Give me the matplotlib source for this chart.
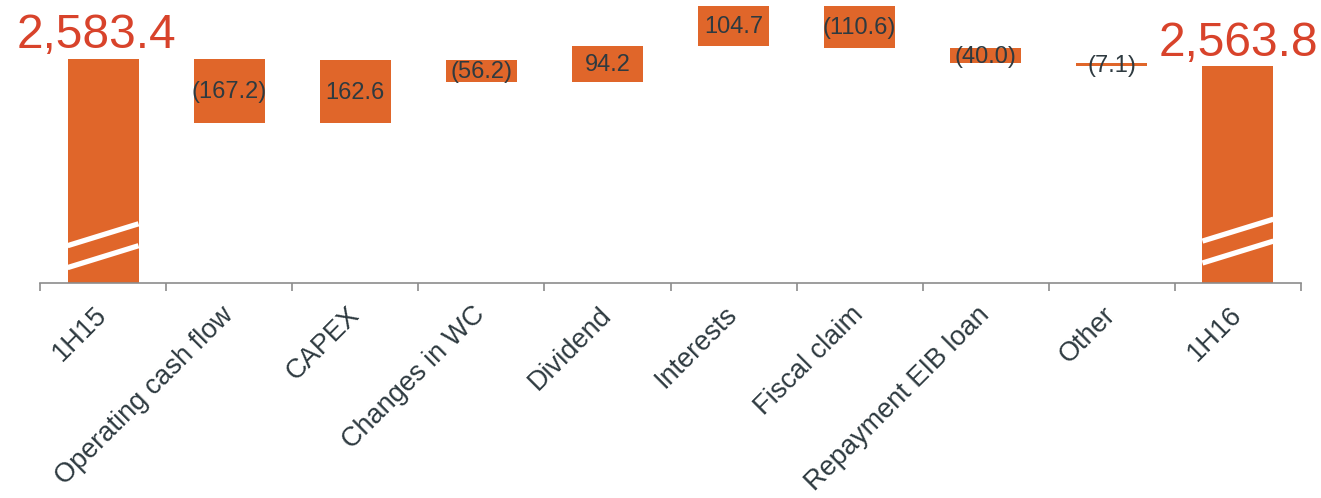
import matplotlib
matplotlib.use("Agg")
import matplotlib.pyplot as plt
import numpy as np

plt.rcParams['font.family'] = ['Liberation Sans', 'DejaVu Sans']

CATEGORIES = ['1H15', 'Operating cash flow', 'CAPEX', 'Changes in WC', 'Dividend',
              'Interests', 'Fiscal claim', 'Repayment EIB loan', 'Other', '1H16']
START = 2583.4
DELTAS = [-167.2, 162.6, -56.2, 94.2, 104.7, -110.6, -40.0, -7.1]
END = 2563.8
DELTA_LABELS = ['(167.2)', '162.6', '(56.2)', '94.2', '104.7', '(110.6)', '(40.0)', '(7.1)']
TOTAL_LABELS = ['2,583.4', '2,563.8']

BAR_COLOR = '#E0662A'
BIG_COLOR = '#D8432B'
TEXT_COLOR = '#2E3A40'
AXIS_COLOR = '#8C8C8C'
Y_BASE = 2000          # broken axis: bars start here
Y_TOP = 2736

fig = plt.figure(figsize=(13.21, 4.98), dpi=100)
ax = fig.add_axes([40 / 1321, 1 - 283 / 498, 1261 / 1321, 283 / 498])

x = np.arange(len(CATEGORIES))
width = 0.563

# waterfall geometry from cumulative sums
levels = np.concatenate([[START], START + np.cumsum(DELTAS)])
lows = np.minimum(levels[:-1], levels[1:])
highs = np.maximum(levels[:-1], levels[1:])

# totals
ax.bar([x[0], x[-1]], [START - Y_BASE, END - Y_BASE], bottom=Y_BASE,
       width=width, color=BAR_COLOR, zorder=2)
# steps
ax.bar(x[1:-1], highs - lows, bottom=lows, width=width, color=BAR_COLOR, zorder=2)

for xi, lo, hi, lab in zip(x[1:-1], lows, highs, DELTA_LABELS):
    ax.text(xi, (lo + hi) / 2 - 3, lab, ha='center', va='center', fontsize=17,
            color=TEXT_COLOR, zorder=3)

for xi, val, lab, dx in zip([x[0], x[-1]], [START, END], TOTAL_LABELS, [-5, 0]):
    ax.annotate(lab, (xi, val), xytext=(dx, 7.5), textcoords='offset points',
                ha='center', va='baseline', fontsize=34.5, color=BIG_COLOR)

# white break marks on the two total bars
for xi, lo in [(x[0], 2040), (x[-1], 2052)]:
    for k in range(2):
        y0 = lo + k * 57
        ax.plot([xi - width / 2, xi + width / 2], [y0, y0 + 57], color='white',
                lw=3.8, solid_capstyle='butt', zorder=3)

ax.set_xlim(-0.5, len(CATEGORIES) - 0.5)
ax.set_ylim(Y_BASE, Y_TOP)

for s in ['top', 'right', 'left']:
    ax.spines[s].set_visible(False)
ax.spines['bottom'].set_color(AXIS_COLOR)
ax.spines['bottom'].set_linewidth(1.2)
ax.set_yticks([])

# tick marks on category boundaries, labels on centres
ax.set_xticks(np.arange(-0.5, len(CATEGORIES)), minor=True)
ax.tick_params(axis='x', which='minor', length=5.5, width=1.2, color=AXIS_COLOR)
ax.set_xticks(x)
ax.set_xticklabels(CATEGORIES, rotation=45, ha='right', va='center',
                   rotation_mode='anchor', fontsize=19.5, color=TEXT_COLOR)
ax.tick_params(axis='x', which='major', length=0, pad=20)

fig.savefig('out.png', dpi=100)
